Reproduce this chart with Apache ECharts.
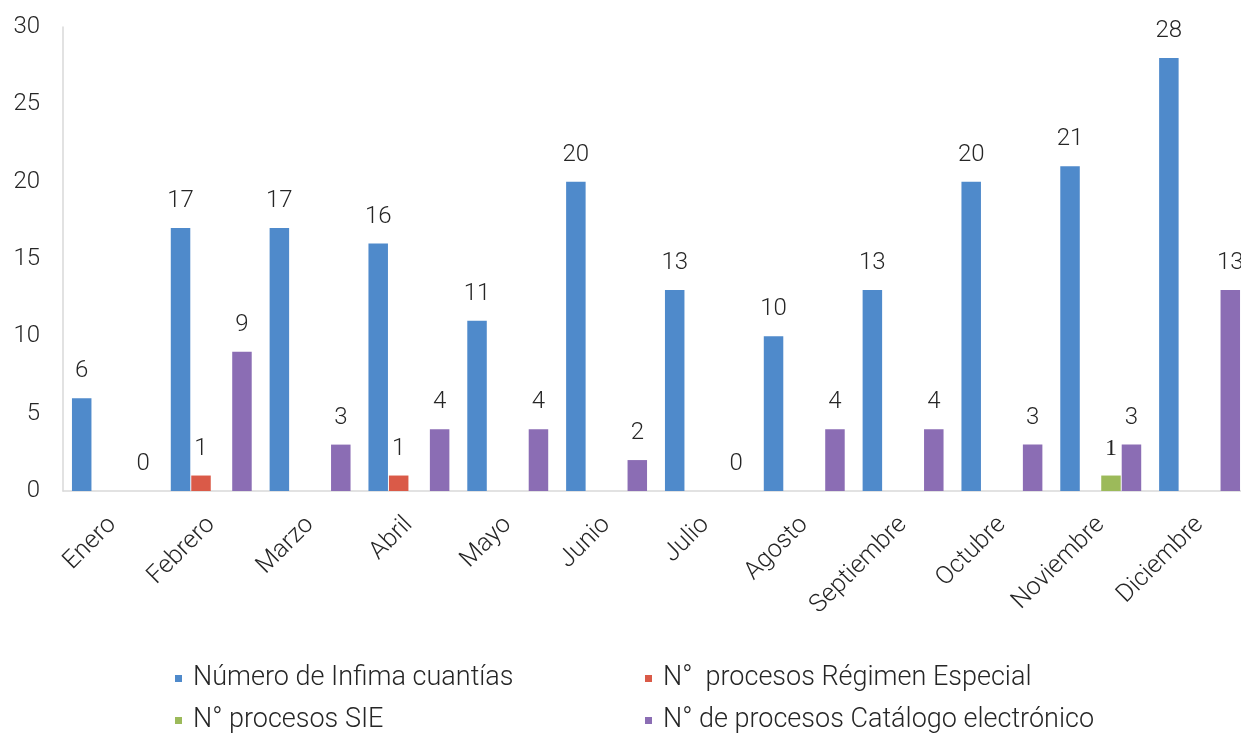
<!DOCTYPE html>
<html>
<head>
<meta charset="utf-8">
<script src="https://cdn.jsdelivr.net/npm/echarts@6/dist/echarts.min.js"></script>
<style>
  html, body { margin: 0; padding: 0; background: #fff; }
  #chart { width: 1241px; height: 738px; }
</style>
</head>
<body>
<div id="chart"></div>
<script>
// months on the x axis
const months = ['Enero', 'Febrero', 'Marzo', 'Abril', 'Mayo', 'Junio', 'Julio',
  'Agosto', 'Septiembre', 'Octubre', 'Noviembre', 'Diciembre'];

// series values (null = no bar / no label)
const infimaCuantias = [6, 17, 17, 16, 11, 20, 13, 10, 13, 20, 21, 28];
const regimenEspecial = [null, 1, null, 1, null, null, null, null, null, null, null, null];
const procesosSIE = [null, null, null, null, null, null, null, null, null, null, 1, null];
const catalogoElectronico = [0, 9, 3, 4, 4, 2, 0, 4, 4, 3, 3, 13];

const seriesNames = [
  'Número de Infima cuantías',
  'N°  procesos Régimen Especial',
  'N° procesos SIE',
  'N° de procesos Catálogo electrónico'
];
const colors = ['#4F8ACB', '#DA5A48', '#9CBA5A', '#8B6DB4'];

const font = 'Roboto';
const textColor = '#262626';

const chart = echarts.init(document.getElementById('chart'));

const barLabel = {
  show: true,
  position: 'top',
  distance: 15,
  fontFamily: font,
  fontWeight: 300,
  fontSize: 24,
  color: textColor
};

function makeBar(name, data, color, extraLabel) {
  return {
    name: name,
    type: 'bar',
    data: data,
    barWidth: 19.5,
    barGap: '5%',
    itemStyle: { color: color },
    label: Object.assign({}, barLabel, extraLabel || {})
  };
}

function makeLegend(name, left, top) {
  return {
    data: [name],
    left: left,
    top: top,
    icon: 'rect',
    itemWidth: 7,
    itemHeight: 7,
    selectedMode: false,
    textStyle: {
      fontFamily: font,
      fontWeight: 300,
      fontSize: 27,
      color: textColor,
      padding: [12, 0, 0, 6]
    }
  };
}

chart.setOption({
  animation: false,
  color: colors,
  grid: {
    left: 63,
    width: 1186,
    top: 27,
    bottom: 247,
    containLabel: false,
    outerBoundsMode: 'none'
  },
  legend: [
    makeLegend(seriesNames[0], 170, 660),
    makeLegend(seriesNames[1], 640, 660),
    makeLegend(seriesNames[2], 170, 702),
    makeLegend(seriesNames[3], 640, 702)
  ],
  xAxis: {
    type: 'category',
    data: months,
    axisTick: { show: false },
    axisLine: { lineStyle: { color: '#D9D9D9', width: 1.5 } },
    axisLabel: {
      rotate: 45,
      interval: 0,
      margin: 30,
      fontFamily: font,
      fontWeight: 300,
      fontSize: 25,
      color: textColor
    }
  },
  yAxis: {
    type: 'value',
    min: 0,
    max: 30,
    interval: 5,
    axisLine: { show: true, lineStyle: { color: '#D9D9D9', width: 1.5 } },
    axisTick: { show: false },
    splitLine: { show: false },
    axisLabel: {
      margin: 23,
      fontFamily: font,
      fontWeight: 300,
      fontSize: 24,
      color: textColor
    }
  },
  series: [
    makeBar(seriesNames[0], infimaCuantias, colors[0]),
    makeBar(seriesNames[1], regimenEspecial, colors[1]),
    makeBar(seriesNames[2], procesosSIE, colors[2], { fontFamily: 'Liberation Serif', fontWeight: 'normal' }),
    makeBar(seriesNames[3], catalogoElectronico, colors[3])
  ]
});
</script>
</body>
</html>
